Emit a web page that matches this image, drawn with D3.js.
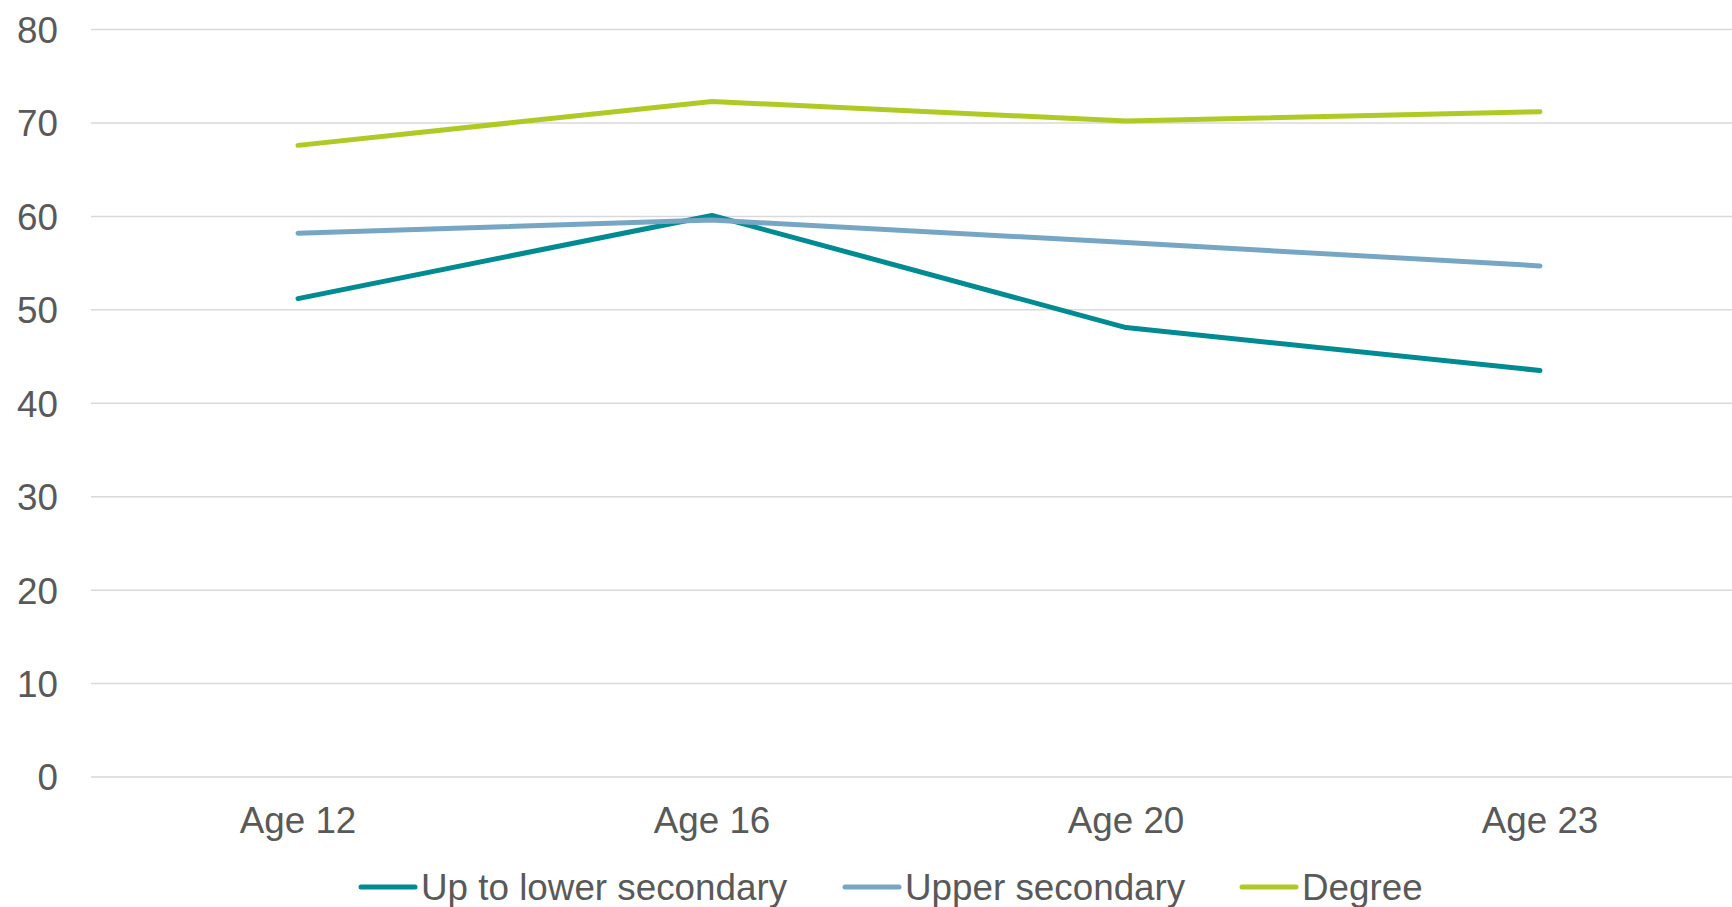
<!DOCTYPE html>
<html>
<head>
<meta charset="utf-8">
<script src="https://cdn.jsdelivr.net/npm/d3@7"></script>
<style>
  html, body { margin: 0; padding: 0; background: #fff; overflow: hidden; }
  svg { display: block; }
  text { font-family: "Liberation Sans", Arial, sans-serif; fill: #595959; }
</style>
</head>
<body>
<svg id="chart" width="1732" height="907"></svg>
<script>
// Categories and series
const ages = ["Age 12", "Age 16", "Age 20", "Age 23"];
const lowerSecondary = [51.2, 60.1, 48.1, 43.5];
const upperSecondary = [58.2, 59.6, 57.2, 54.7];
const degree = [67.6, 72.3, 70.2, 71.2];
const seriesNames = ["Up to lower secondary", "Upper secondary", "Degree"];
const seriesColors = ["#008A92", "#77A6C4", "#AFCA25"];
const yTicks = [0, 10, 20, 30, 40, 50, 60, 70, 80];

const series = [lowerSecondary, upperSecondary, degree];

const svg = d3.select("#chart");
const plot = { left: 91, right: 1747, top: 29.5, bottom: 777 };
const fontSize = 36.8;

const x = d3.scaleBand().domain(ages).range([plot.left, plot.right]).paddingInner(0).paddingOuter(0);
const y = d3.scaleLinear().domain([0, 80]).range([plot.bottom, plot.top]);

// Horizontal gridlines
svg.append("g")
  .selectAll("line")
  .data(yTicks)
  .join("line")
  .attr("x1", plot.left)
  .attr("x2", plot.right)
  .attr("y1", d => y(d))
  .attr("y2", d => y(d))
  .attr("stroke", "#d9d9d9")
  .attr("stroke-width", 1.5);

// Y axis labels
const yAxis = d3.axisLeft(y).tickValues(yTicks).tickSize(0).tickPadding(0);
const gy = svg.append("g").attr("transform", "translate(58,0)").call(yAxis);
gy.select(".domain").remove();
gy.selectAll("text")
  .attr("font-size", fontSize)
  .attr("font-family", "'Liberation Sans', Arial, sans-serif")
  .attr("fill", "#595959")
  .attr("dy", "0.35em");

// X axis labels
const xAxis = d3.axisBottom(x).tickSize(0).tickPadding(0);
const gx = svg.append("g").attr("transform", "translate(0,833)").call(xAxis);
gx.select(".domain").remove();
gx.selectAll("text")
  .attr("font-size", fontSize)
  .attr("font-family", "'Liberation Sans', Arial, sans-serif")
  .attr("fill", "#595959")
  .attr("y", 0)
  .attr("dy", 0);

// Series lines
const line = d3.line()
  .x((d, i) => x(ages[i]) + x.bandwidth() / 2)
  .y(d => y(d));

svg.append("g")
  .selectAll("path")
  .data(series)
  .join("path")
  .attr("d", d => line(d))
  .attr("fill", "none")
  .attr("stroke", (d, i) => seriesColors[i])
  .attr("stroke-width", 5)
  .attr("stroke-linecap", "round")
  .attr("stroke-linejoin", "round");

// Legend
const legendX = [361, 845, 1242];
const legend = svg.append("g")
  .selectAll("g")
  .data(seriesNames)
  .join("g")
  .attr("transform", (d, i) => `translate(${legendX[i]},0)`);

legend.append("line")
  .attr("x1", 0).attr("x2", 54)
  .attr("y1", 887).attr("y2", 887)
  .attr("stroke", (d, i) => seriesColors[i])
  .attr("stroke-width", 5)
  .attr("stroke-linecap", "round");

legend.append("text")
  .attr("x", 60)
  .attr("y", 900)
  .attr("font-size", fontSize)
  .text(d => d);
</script>
</body>
</html>
